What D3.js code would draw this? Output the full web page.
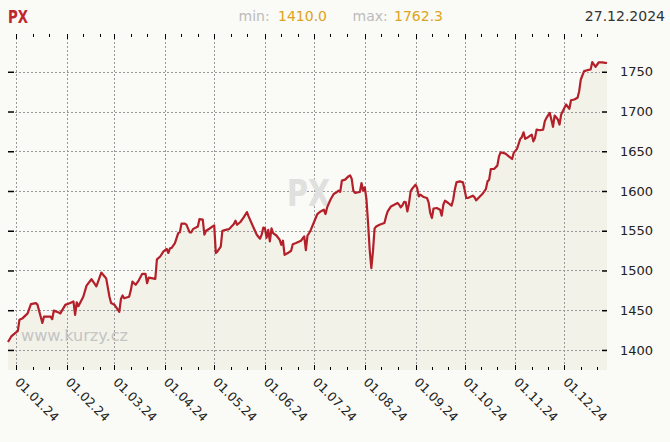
<!DOCTYPE html>
<html>
<head>
<meta charset="utf-8">
<script src="https://cdn.jsdelivr.net/npm/d3@7"></script>
<style>
  html, body { margin: 0; padding: 0; background: #fafaf6; }
  svg { display: block; }
  text { font-family: "DejaVu Sans", Verdana, sans-serif; }
</style>
</head>
<body>
<svg id="chart" width="670" height="442"></svg>
<script>
const title = "PX";
const lastDate = "27.12.2024";
const dates = [
"2023-12-27","2023-12-29","2024-01-02","2024-01-03","2024-01-05","2024-01-08","2024-01-10","2024-01-13","2024-01-14","2024-01-17",
"2024-01-18","2024-01-22","2024-01-23","2024-01-24","2024-01-27","2024-01-28","2024-01-31","2024-02-03","2024-02-05","2024-02-06",
"2024-02-07","2024-02-08","2024-02-11","2024-02-13","2024-02-16","2024-02-19","2024-02-22","2024-02-24","2024-02-25","2024-02-27",
"2024-02-28","2024-03-01","2024-03-04","2024-03-05","2024-03-06","2024-03-07","2024-03-10","2024-03-11","2024-03-12","2024-03-14",
"2024-03-16","2024-03-18","2024-03-20","2024-03-21","2024-03-22","2024-03-26","2024-03-27","2024-03-29","2024-03-31","2024-04-02",
"2024-04-03","2024-04-04","2024-04-05","2024-04-07","2024-04-09","2024-04-10","2024-04-11","2024-04-13","2024-04-14","2024-04-16",
"2024-04-17","2024-04-18","2024-04-21","2024-04-22","2024-04-24","2024-04-25","2024-04-26","2024-04-28","2024-04-30","2024-05-01",
"2024-05-02","2024-05-03","2024-05-05","2024-05-06","2024-05-08","2024-05-10","2024-05-13","2024-05-14","2024-05-15","2024-05-17",
"2024-05-19","2024-05-21","2024-05-22","2024-05-25","2024-05-27","2024-05-29","2024-05-30","2024-05-31","2024-06-01","2024-06-02",
"2024-06-03","2024-06-04","2024-06-05","2024-06-06","2024-06-08","2024-06-10","2024-06-11","2024-06-12","2024-06-13","2024-06-15",
"2024-06-17","2024-06-18","2024-06-20","2024-06-23","2024-06-25","2024-06-26","2024-06-27","2024-06-28","2024-06-29","2024-06-30",
"2024-07-01","2024-07-03","2024-07-05","2024-07-07","2024-07-08","2024-07-09","2024-07-11","2024-07-13","2024-07-15","2024-07-16",
"2024-07-17","2024-07-18","2024-07-20","2024-07-22","2024-07-23","2024-07-24","2024-07-25","2024-07-26","2024-07-29","2024-07-30",
"2024-07-31","2024-08-01","2024-08-02","2024-08-03","2024-08-04","2024-08-05","2024-08-06","2024-08-07","2024-08-08","2024-08-10",
"2024-08-13","2024-08-14","2024-08-15","2024-08-17","2024-08-19","2024-08-21","2024-08-22","2024-08-23","2024-08-24","2024-08-25",
"2024-08-26","2024-08-27","2024-08-28","2024-08-29","2024-08-30","2024-09-01","2024-09-02","2024-09-03","2024-09-04","2024-09-06",
"2024-09-08","2024-09-09","2024-09-10","2024-09-11","2024-09-12","2024-09-14","2024-09-16","2024-09-17","2024-09-18","2024-09-19",
"2024-09-21","2024-09-23","2024-09-24","2024-09-25","2024-09-26","2024-09-28","2024-09-30","2024-10-01","2024-10-02","2024-10-03",
"2024-10-05","2024-10-06","2024-10-07","2024-10-08","2024-10-10","2024-10-12","2024-10-14","2024-10-15","2024-10-16","2024-10-17",
"2024-10-19","2024-10-21","2024-10-22","2024-10-23","2024-10-26","2024-10-28","2024-10-30","2024-10-31","2024-11-02","2024-11-04",
"2024-11-05","2024-11-06","2024-11-07","2024-11-09","2024-11-11","2024-11-12","2024-11-13","2024-11-14","2024-11-16","2024-11-18",
"2024-11-19","2024-11-20","2024-11-22","2024-11-23","2024-11-24","2024-11-25","2024-11-27","2024-11-28","2024-11-29","2024-12-01",
"2024-12-02","2024-12-04","2024-12-05","2024-12-07","2024-12-09","2024-12-10","2024-12-11","2024-12-13","2024-12-15","2024-12-17",
"2024-12-18","2024-12-20","2024-12-22","2024-12-24","2024-12-26","2024-12-27"
];
const values = [
1410.0,1417,1424,1438,1440,1446,1457.6,1459,1457,1434,
1442,1442,1438.7,1449.5,1447,1446,1456.7,1459,1461,1444,
1460,1455,1467,1481,1489,1480,1497.4,1492.5,1490,1467,
1459,1457,1448,1464,1468.5,1465,1467,1474.7,1486,1482,
1488,1495.8,1495.8,1484,1491,1489.5,1514,1517.6,1524,1527,
1522,1528,1528.5,1534.5,1547,1548,1559,1559,1557.6,1548,
1548,1552,1555.4,1564.7,1564,1545,1550,1552.5,1555.4,1556.7,
1521.9,1524,1530,1550,1551,1552,1558.4,1562.6,1557.5,1561,
1566.8,1573.5,1568,1554,1545,1540,1545,1554,1553,1541,
1551,1536.5,1553,1547,1544,1538.6,1532.3,1537.4,1519.7,1521.9,
1524.8,1533,1534.5,1537.4,1542.8,1525.5,1544,1547,1551,1556,
1561,1571,1574.3,1576.4,1571,1579.4,1589,1596.2,1598.8,1600.4,
1598.8,1613,1614.3,1618.4,1619.7,1615.5,1600.4,1597.5,1598.8,1610,
1600.4,1604.6,1590,1560,1526,1503,1524,1553,1555.4,1557.6,
1559.7,1568,1574.3,1580.6,1582.7,1584.9,1582.7,1579.4,1582,1586.2,
1586,1574.3,1584,1599.5,1603,1608,1603.8,1593.2,1595.4,1592.4,
1591.2,1585.6,1572.3,1566,1578,1578.6,1576.4,1568.9,1582.7,1587.8,
1584.9,1581.5,1589,1601.7,1610.8,1612.1,1610.8,1601.7,1591.2,1591.2,
1593.2,1594.1,1592.4,1588.2,1592.4,1596.6,1602.5,1612.1,1614.3,1627.7,
1627.7,1631.9,1643.6,1648.7,1647,1643.6,1640.3,1647.9,1653,1665.6,
1668,1673.9,1665.6,1668,1671,1662.5,1666.8,1677.3,1676.4,1677.3,
1687.7,1692,1698.3,1689.9,1680.7,1694.9,1689.9,1683.6,1696.2,1704.6,
1708.8,1703.4,1714.2,1715.1,1717.2,1725.6,1740.3,1750.8,1752,1752.9,
1762.3,1756.3,1762.0,1761.8,1761.3,1761.0
];
const yTicks = [1400, 1450, 1500, 1550, 1600, 1650, 1700, 1750];
const minorDays = [11, 21];

const parse = d3.timeParse("%Y-%m-%d");
const data = dates.map((d, i) => ({ date: parse(d), value: values[i] }));

const svg = d3.select("#chart");
const L = 8, R = 607, T = 34, B = 370;

const vMin = d3.min(values), vMax = d3.max(values);
const pad = (vMax - vMin) * 0.1;

const x = d3.scaleTime()
  .domain([data[0].date, data[data.length - 1].date])
  .range([L, R]);
const y = d3.scaleLinear()
  .domain([vMin - pad, vMax + pad])
  .range([B, T]);

const monthTicks = d3.timeMonth.range(new Date(2024, 0, 1), new Date(2024, 11, 2));
const minorTicks = [];
monthTicks.forEach(m => minorDays.forEach(dd => {
  const t = new Date(m.getFullYear(), m.getMonth(), dd);
  if (t <= x.domain()[1]) minorTicks.push(t);
}));

// area
const area = d3.area()
  .x(d => x(d.date))
  .y0(B)
  .y1(d => y(d.value));
svg.append("path").datum(data)
  .attr("d", area)
  .attr("fill", "#f2f2e9");

// grid lines (vertical)
const gv = svg.append("g").attr("transform", `translate(0,${T})`)
  .call(d3.axisBottom(x).tickValues(monthTicks).tickSize(B - T).tickFormat(""));
gv.select(".domain").remove();
gv.selectAll("line").attr("stroke", "#999").attr("stroke-dasharray", "2,2")
  .attr("shape-rendering", "crispEdges");

// grid lines (horizontal)
const gh = svg.append("g").attr("transform", `translate(15,0)`)
  .call(d3.axisRight(y).tickValues(yTicks).tickSize(600 - 15).tickFormat(""));
gh.select(".domain").remove();
gh.selectAll("line").attr("stroke", "#999").attr("stroke-dasharray", "2,2")
  .attr("shape-rendering", "crispEdges");

// watermarks
svg.append("text").attr("x", 287).attr("y", 206)
  .attr("font-size", 38).attr("font-weight", "bold")
  .attr("textLength", 43).attr("lengthAdjust", "spacingAndGlyphs")
  .attr("fill", "#e0e0de").text(title);
svg.append("text").attr("x", 21).attr("y", 341)
  .attr("font-size", 16)
  .attr("textLength", 107).attr("lengthAdjust", "spacingAndGlyphs")
  .attr("fill", "#c4c4c4").text("www.kurzy.cz");

// line
const line = d3.line().x(d => x(d.date)).y(d => y(d.value));
svg.append("path").datum(data)
  .attr("d", line)
  .attr("fill", "none")
  .attr("stroke", "#b3202a")
  .attr("stroke-width", 2.2)
  .attr("stroke-linejoin", "round");

// tick marks top/bottom (inward)
function ticks(axisFn, pos, vals, size) {
  const g = svg.append("g").attr("transform", pos)
    .call(axisFn(x).tickValues(vals).tickSize(size).tickFormat(""));
  g.select(".domain").remove();
  g.selectAll("line").attr("stroke", "#000").attr("shape-rendering", "crispEdges");
}
ticks(d3.axisBottom, `translate(0,${T})`, monthTicks, 5);
ticks(d3.axisBottom, `translate(0,${T})`, minorTicks, 3);
ticks(d3.axisTop, `translate(0,${B})`, monthTicks, 5);
ticks(d3.axisTop, `translate(0,${B})`, minorTicks, 3);

// y tick marks left and right
const yl = svg.append("g").attr("transform", `translate(${L},0)`)
  .call(d3.axisRight(y).tickValues(yTicks).tickSize(6).tickFormat(""));
yl.select(".domain").remove();
yl.selectAll("line").attr("stroke", "#000").attr("stroke-width", 1.5);

const yr = svg.append("g").attr("transform", `translate(${R},0)`)
  .call(d3.axisLeft(y).tickValues(yTicks).tickSize(5).tickFormat(""));
yr.select(".domain").remove();
yr.selectAll("line").attr("stroke", "#000").attr("stroke-width", 1.5);

// y labels
svg.append("g").selectAll("text").data(yTicks).join("text")
  .attr("x", 620).attr("y", d => y(d))
  .attr("dy", "0.36em")
  .attr("font-size", 13)
  .attr("fill", "#222")
  .text(d => d);

// x labels rotated
const fmt = d3.timeFormat("%d.%m.%y");
svg.append("g").selectAll("text").data(monthTicks).join("text")
  .attr("transform", d => `translate(${x(d) - 2},${383}) rotate(45)`)
  .attr("font-size", 12.5)
  .attr("fill", "#222")
  .text(d => fmt(d));

// header
svg.append("text").attr("x", 8).attr("y", 22.5)
  .attr("font-size", 17).attr("font-weight", "bold")
  .attr("textLength", 20).attr("lengthAdjust", "spacingAndGlyphs")
  .attr("fill", "#c0262d").text(title);

const hdr = svg.append("text").attr("y", 21).attr("font-size", 14);
hdr.append("tspan").attr("x", 238.5).attr("fill", "#bcbcbc").text("min:");
hdr.append("tspan").attr("x", 278).attr("fill", "#daa520").text(vMin.toFixed(1));
hdr.append("tspan").attr("x", 352.6).attr("fill", "#bcbcbc").text("max:");
hdr.append("tspan").attr("x", 394).attr("fill", "#daa520").text(vMax.toFixed(1));

svg.append("text").attr("x", 665).attr("y", 21)
  .attr("text-anchor", "end").attr("font-size", 14)
  .attr("fill", "#333").text(lastDate);
</script>
</body>
</html>
